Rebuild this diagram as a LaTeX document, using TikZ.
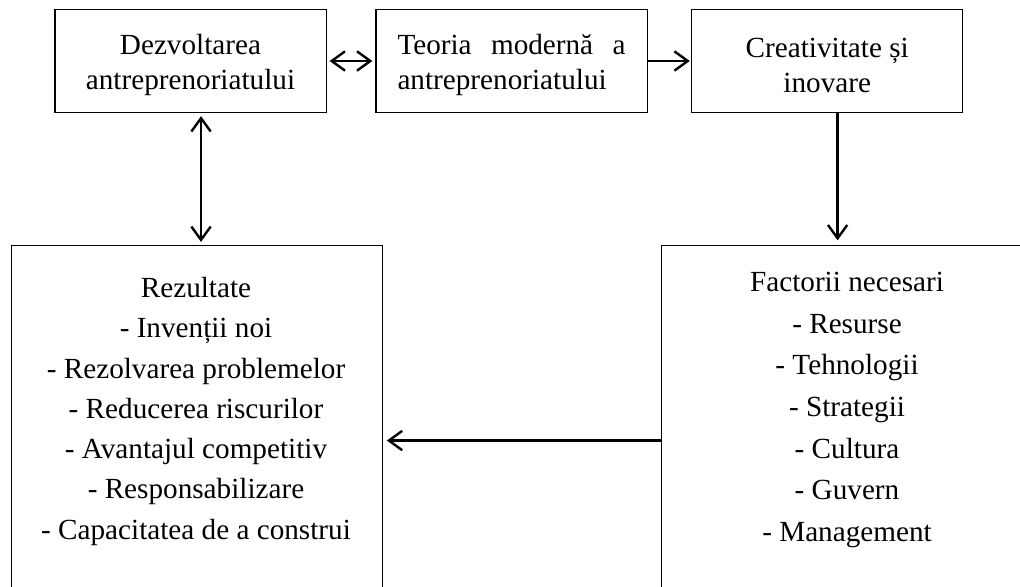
\documentclass[tikz,border=0pt]{standalone}
\usepackage{fontspec}
\setmainfont{Liberation Serif}
\usetikzlibrary{arrows.meta}
\newcommand{\topgap}{\rule{0pt}{21pt}}

\begin{document}
\begin{tikzpicture}[x=0.75pt,y=-0.75pt,
  >={Straight Barb[length=10pt,width=14.5pt]},
  every node/.style={font=\fontsize{21.9}{26}\selectfont},
  box/.style={draw,line width=0.8pt,inner sep=0pt,
              minimum width=203.3pt,minimum height=77.3pt},
  bigbox/.style={draw,line width=0.8pt,anchor=north west,
              minimum width=278.3pt,minimum height=292.5pt},
  list/.style={anchor=north,inner sep=0pt,align=center,
              font=\fontsize{21.9}{30.2}\selectfont},
  conn/.style={line width=1.8pt,shorten <=2.3pt,shorten >=2.3pt}]
 \clip (0,0) rectangle (1020,586);
 % top row
 \node[box,align=center] (dezv) at (190.5,61) {\topgap Dezvoltarea\\antreprenoriatului};
 \node[box] (teoria) at (511.5,61)
   {\begin{tabular}{@{}l@{}}\makebox[171pt][s]{Teoria modernă a}\rule{0pt}{23.8pt}\\
    antreprenoriatului\end{tabular}};
 \node[box,align=center] (creat) at (827.2,61) {\topgap Creativitate și\\inovare};
 % lower boxes
 \node[bigbox] (rez) at (10.7,245) {};
 \node[bigbox] (fact) at (661,245) {};
 \node[list] (rezt) at (196,277)
   {Rezultate\\- Invenții noi\\- Rezolvarea problemelor\\- Reducerea riscurilor\\
    - Avantajul competitiv\\- Responsabilizare\\- Capacitatea de a construi};
 \node[list,font=\fontsize{21.9}{31.2}\selectfont] (factt) at (847,272)
   {Factorii necesari\\- Resurse\\- Tehnologii\\- Strategii\\- Cultura\\
    - Guvern\\- Management};
 % connectors
 \draw[conn,<->] (dezv) -- (teoria);
 \draw[conn,->,shorten <=0pt,shorten >=1pt] (teoria) -- (creat);
 \draw[conn,<->] ([xshift=7.9pt]dezv.south) -- ([xshift=7.9pt]dezv.south |- rez.north);
 \draw[conn,->,shorten <=0pt,shorten >=3.5pt] ([xshift=7.8pt]creat.south) -- ([xshift=7.8pt]creat.south |- fact.north);
 \draw[conn,->,shorten <=0pt,shorten >=3pt] (fact) -- (rez);
\end{tikzpicture}
\end{document}
